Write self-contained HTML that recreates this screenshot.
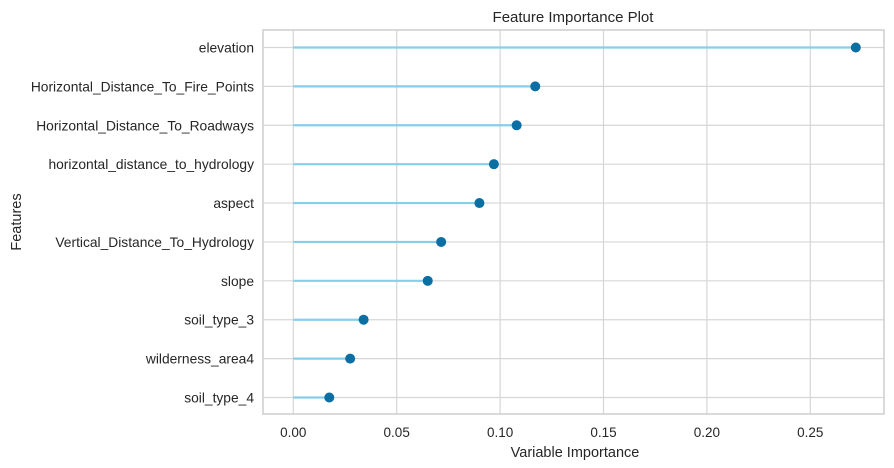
<!DOCTYPE html>
<html><head><meta charset="utf-8">
<style>
html,body{margin:0;padding:0;background:#fff;}
svg{display:block;font-family:"Liberation Sans","DejaVu Sans",sans-serif;}
</style></head>
<body>
<svg id="chart" width="894" height="468" xmlns="http://www.w3.org/2000/svg">
  <rect x="0" y="0" width="894" height="468" fill="#ffffff"/>
  <text x="573" y="22" text-anchor="middle" font-size="15" fill="#262626">Feature Importance Plot</text>
  <g id="grid"></g>
  <g id="marks"></g>
  <g id="labels"></g>
  <rect x="263" y="30" width="621" height="384" fill="none" stroke="#d0d0d0" stroke-width="1.6"/>
  <text x="575" y="457" text-anchor="middle" font-size="14.5" fill="#262626">Variable Importance</text>
  <text x="21" y="222" text-anchor="middle" font-size="14.5" fill="#262626" transform="rotate(-90 21 222)">Features</text>
</svg>
<script>
const features = ["elevation","Horizontal_Distance_To_Fire_Points","Horizontal_Distance_To_Roadways","horizontal_distance_to_hydrology","aspect","Vertical_Distance_To_Hydrology","slope","soil_type_3","wilderness_area4","soil_type_4"];
const importance = [0.272,0.117,0.108,0.097,0.090,0.0715,0.065,0.034,0.0275,0.0174];
const xTicks = [0,0.05,0.10,0.15,0.20,0.25];
const xTickLabels = ["0.00","0.05","0.10","0.15","0.20","0.25"];

const NS = "http://www.w3.org/2000/svg";
const X0 = 293.3, XPER = 2068, TOP = 30, BOT = 414, LEFT = 263, RIGHT = 884;
const ROW0 = 47.5, ROWSTEP = (397.5 - 47.5) / 9;
function xScale(v){ return X0 + v * XPER; }
function yScale(i){ return ROW0 + i * ROWSTEP; }
function mk(tag, attrs, parent){
  const e = document.createElementNS(NS, tag);
  for (const k in attrs) e.setAttribute(k, attrs[k]);
  parent.appendChild(e);
  return e;
}
const grid = document.getElementById("grid");
const marks = document.getElementById("marks");
const labels = document.getElementById("labels");

xTicks.forEach((t, i) => {
  const x = xScale(t);
  const gl = mk("line", {x1:x, x2:x, y1:TOP, y2:BOT, stroke:"#d6d6d6", "stroke-width":1.2}, grid);
  
  
  const tl = mk("text", {x:x, y:437, "text-anchor":"middle", "font-size":13.5, fill:"#262626"}, labels);
  tl.textContent = xTickLabels[i];
  
  
});

features.forEach((f, i) => {
  const y = yScale(i);
  const gl = mk("line", {x1:LEFT, x2:RIGHT, y1:y, y2:y, stroke:"#d6d6d6", "stroke-width":1.2}, grid);
  
  
  const tl = mk("text", {x:254, y:y + 5, "text-anchor":"end", "font-size":13.8, fill:"#262626"}, labels);
  tl.textContent = f;
  
  
  const stem = mk("line", {x1:xScale(0), x2:xScale(importance[i]), y1:y, y2:y, stroke:"#87ceeb", "stroke-width":2.2}, marks);
  
  
  const dot = mk("circle", {cx:xScale(importance[i]), cy:y, r:5, fill:"#0b6fa4"}, marks);
  
  
});
</script>
</body></html>
